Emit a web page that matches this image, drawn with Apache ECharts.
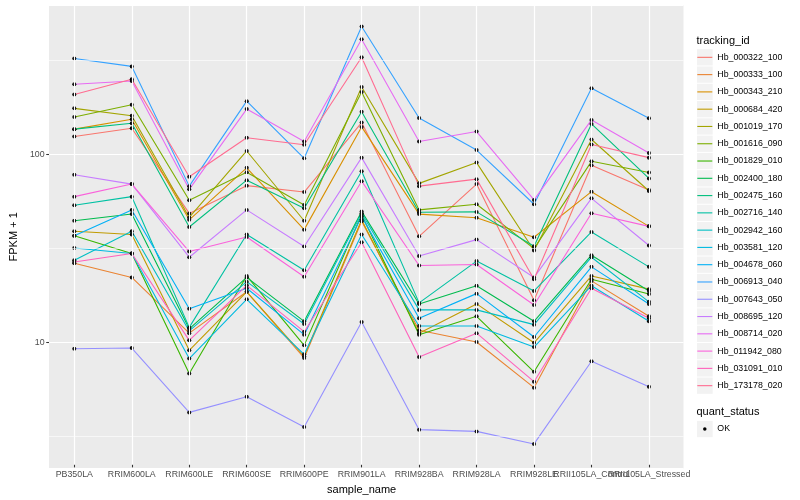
<!DOCTYPE html>
<html><head><meta charset="utf-8">
<script src="https://cdn.jsdelivr.net/npm/echarts@6/dist/echarts.min.js"></script>
<style>html,body{margin:0;padding:0;background:#fff}#c{width:800px;height:500px}</style>
</head><body><div id="c"></div>
<script>
const categories = ['PB350LA','RRIM600LA','RRIM600LE','RRIM600SE','RRIM600PE','RRIM901LA','RRIM928BA','RRIM928LA','RRIM928LE','RRII105LA_Control','RRII105LA_Stressed'];
const seriesNames = ['Hb_000322_100','Hb_000333_100','Hb_000343_210','Hb_000684_420','Hb_001019_170','Hb_001616_090','Hb_001829_010','Hb_002400_180','Hb_002475_160','Hb_002716_140','Hb_002942_160','Hb_003581_120','Hb_004678_060','Hb_006913_040','Hb_007643_050','Hb_008695_120','Hb_008714_020','Hb_011942_080','Hb_031091_010','Hb_173178_020'];
const seriesColors = ['#F8766D','#EA8331','#D89000','#C09B00','#A3A500','#7CAE00','#39B600','#00BB4E','#00BF7D','#00C1A3','#00BFC4','#00BAE0','#00B0F6','#35A2FF','#9590FF','#C77CFF','#E76BF3','#FA62DB','#FF62BC','#FF6C91'];

const Hb_000322_100 = [122.6, 135.8, 47.4, 66.8, 61.7, 145.5, 35.7, 68.1, 16.2, 85.9, 63.3];
const Hb_000333_100 = [25.6, 21.5, 10.8, 18.0, 7.95, 43.0, 11.2, 9.68, 5.51, 20.6, 13.3];
const Hb_000343_210 = [134.2, 151.6, 43.8, 83.2, 38.8, 138.0, 47.0, 44.9, 35.3, 62.0, 40.4];
const Hb_000684_420 = [38.0, 36.5, 8.74, 18.0, 8.12, 43.8, 10.8, 15.5, 9.59, 21.9, 18.6];
const Hb_001019_170 = [173.5, 158.5, 45.1, 102.5, 43.3, 226.1, 68.7, 88.8, 30.0, 118.1, 62.5];
const Hb_001616_090 = [156.0, 181.4, 55.8, 78.9, 52.6, 212.6, 49.5, 53.1, 30.7, 90.2, 78.6];
const Hb_001829_010 = [36.0, 28.9, 6.56, 21.9, 9.29, 46.6, 10.6, 13.3, 6.70, 21.0, 17.5];
const Hb_002400_180 = [43.3, 47.1, 11.4, 21.5, 12.5, 48.6, 15.5, 19.4, 12.5, 28.3, 18.2];
const Hb_002475_160 = [134.2, 144.4, 40.1, 71.5, 50.5, 166.4, 48.1, 48.3, 31.6, 143.2, 73.0];
const Hb_002716_140 = [52.4, 58.3, 11.6, 36.5, 23.5, 79.8, 15.7, 26.3, 18.2, 37.7, 24.5];
const Hb_002942_160 = [26.6, 38.0, 11.1, 20.4, 12.1, 47.5, 14.4, 14.4, 12.0, 27.6, 15.9];
const Hb_003581_120 = [30.9, 28.9, 7.89, 16.4, 8.32, 36.5, 11.8, 11.8, 9.10, 19.4, 12.5];
const Hb_004678_060 = [36.0, 49.5, 14.6, 18.8, 10.6, 45.7, 13.0, 17.6, 10.3, 24.5, 15.5];
const Hb_006913_040 = [321.3, 291.3, 66.4, 189.7, 93.6, 477.2, 154.1, 103.7, 53.1, 222.5, 153.5];
const Hb_007643_050 = [8.91, 8.99, 4.06, 4.93, 3.39, 12.4, 3.28, 3.21, 2.75, 7.64, 5.58];
const Hb_008695_120 = [76.4, 68.1, 27.6, 49.5, 31.5, 94.4, 28.0, 34.3, 21.5, 57.1, 31.9];
const Hb_008714_020 = [233.7, 243.3, 63.8, 172.0, 115.3, 407.0, 115.3, 130.3, 56.0, 150.4, 100.0];
const Hb_011942_080 = [58.3, 68.1, 29.6, 35.4, 21.7, 70.6, 24.9, 25.2, 15.3, 47.5, 40.4];
const Hb_031091_010 = [26.0, 28.9, 9.88, 19.5, 11.0, 33.2, 8.05, 10.8, 5.93, 18.8, 13.0];
const Hb_173178_020 = [206.0, 248.4, 74.5, 120.6, 110.7, 326.5, 66.4, 72.4, 21.0, 111.1, 94.4];

const seriesValues = [Hb_000322_100, Hb_000333_100, Hb_000343_210, Hb_000684_420, Hb_001019_170, Hb_001616_090, Hb_001829_010, Hb_002400_180, Hb_002475_160, Hb_002716_140, Hb_002942_160, Hb_003581_120, Hb_004678_060, Hb_006913_040, Hb_007643_050, Hb_008695_120, Hb_008714_020, Hb_011942_080, Hb_031091_010, Hb_173178_020];

const yMinorGridValues = [3.1623, 31.623, 316.23];
const yMin = 2.13, yMax = 622;
const statusName = 'OK';

const FONT = 'Liberation Sans, Arial, Helvetica, sans-serif';
const LEG_LEFT = 697.3, LEG_TOP = 48.7, ROW = 17.28, OK_TOP = 420.4;

const chart = echarts.init(document.getElementById('c'), null, {renderer: 'canvas'});

const series = [];
series.push({
  type: 'line', xAxisIndex: 0, yAxisIndex: 0, data: [], silent: true, z: 1,
  markLine: { silent: true, symbol: ['none', 'none'], label: {show: false}, animation: false,
    emphasis: {disabled: true},
    lineStyle: {color: '#ffffff', width: 0.6, type: 'solid'},
    data: yMinorGridValues.map(v => ({yAxis: v})) }
});
series.push({
  type: 'line', xAxisIndex: 1, yAxisIndex: 1, data: [], silent: true, z: 1,
  markLine: { silent: true, symbol: ['none', 'none'], label: {show: false}, animation: false,
    emphasis: {disabled: true},
    lineStyle: {color: '#ffffff', width: 1.2, type: 'solid'},
    data: categories.map(c => ({xAxis: c})) }
});
seriesNames.forEach((n, i) => {
  series.push({
    type: 'line', name: n, data: seriesValues[i], xAxisIndex: 1, yAxisIndex: 1,
    showSymbol: false, symbol: 'none', silent: true, z: 2,
    color: seriesColors[i],
    itemStyle: {color: seriesColors[i]},
    lineStyle: {color: seriesColors[i], width: 1.1}
  });
});
seriesNames.forEach((n, i) => {
  series.push({
    type: 'scatter', name: statusName, data: seriesValues[i], xAxisIndex: 1, yAxisIndex: 1,
    symbol: 'circle', symbolSize: 4, silent: true, z: 3,
    itemStyle: {color: '#000000', borderWidth: 0, opacity: 1}
  });
});

const keyBoxes = [];
for (let i = 0; i < seriesNames.length; i++) {
  keyBoxes.push({type: 'rect', left: 697, top: LEG_TOP + ROW * i + 0.5, silent: true, z: -1,
    shape: {width: 15.7, height: ROW - 1}, style: {fill: '#F2F2F2'}});
}
keyBoxes.push({type: 'rect', left: 697, top: OK_TOP + 0.5, silent: true, z: -1,
  shape: {width: 15.7, height: ROW - 1}, style: {fill: '#F2F2F2'}});

const okIcon = 'path://M0,0h0.01v0.01h-0.01z M14.99,14.99h0.01v0.01h-0.01z M5.75,7.5a1.75,1.75 0 1,0 3.5,0a1.75,1.75 0 1,0 -3.5,0z';

chart.setOption({
  animation: false,
  backgroundColor: '#ffffff',
  textStyle: {fontFamily: FONT},
  title: [
    {text: 'tracking_id', left: 696.5, top: 35.2, padding: 0, textStyle: {fontSize: 11, fontWeight: 'normal', color: '#000', fontFamily: FONT}},
    {text: 'quant_status', left: 696.5, top: 406.5, padding: 0, textStyle: {fontSize: 11, fontWeight: 'normal', color: '#000', fontFamily: FONT}}
  ],
  legend: [
    {orient: 'vertical', left: LEG_LEFT, top: LEG_TOP, padding: 0, itemGap: 0,
     itemWidth: 15, itemHeight: 1.1, selectedMode: false,
     textStyle: {fontSize: 8.8, color: '#000', lineHeight: ROW, fontFamily: FONT},
     data: seriesNames.map(n => ({name: n, icon: 'rect'}))},
    {orient: 'vertical', left: LEG_LEFT, top: OK_TOP, padding: 0, itemGap: 0,
     itemWidth: 15, itemHeight: 15, selectedMode: false,
     textStyle: {fontSize: 8.8, color: '#000', lineHeight: ROW, fontFamily: FONT},
     data: [{name: statusName, icon: okIcon, itemStyle: {color: '#000', borderWidth: 0}}]}
  ],
  grid: [
    {left: 39.8, right: 116.5, top: 5, bottom: 31.3, show: true, backgroundColor: '#EBEBEB', borderWidth: 0},
    {left: 45.57, right: 122.3, top: 5, bottom: 31.3, show: false, borderWidth: 0}
  ],
  xAxis: [
    {type: 'value', gridIndex: 0, min: 0, max: 1, show: false},
    {type: 'category', gridIndex: 1, data: categories, boundaryGap: true,
     axisLine: {show: false},
     axisTick: {show: true, alignWithLabel: true, length: 2.75, lineStyle: {color: '#333333', width: 1.07}},
     axisLabel: {interval: 0, color: '#4D4D4D', fontSize: 8.8, margin: 5.5, fontFamily: FONT},
     splitLine: {show: false},
     name: 'sample_name', nameLocation: 'middle', nameGap: 14.8,
     nameTextStyle: {color: '#000', fontSize: 11, fontFamily: FONT}}
  ],
  yAxis: [
    {type: 'log', logBase: 10, gridIndex: 0, min: yMin, max: yMax,
     axisLine: {show: false},
     axisTick: {show: true, length: 2.75, lineStyle: {color: '#333333', width: 1.07}},
     axisLabel: {color: '#4D4D4D', fontSize: 8.8, margin: 4.4, fontFamily: FONT, showMinLabel: false, showMaxLabel: false},
     splitLine: {show: true, lineStyle: {color: '#ffffff', width: 1.2}},
     minorSplitLine: {show: false},
     name: 'FPKM + 1', nameLocation: 'middle', nameGap: 23,
     nameTextStyle: {color: '#000', fontSize: 11, fontFamily: FONT}},
    {type: 'log', logBase: 10, gridIndex: 1, min: yMin, max: yMax, show: false}
  ],
  graphic: keyBoxes,
  series: series
});
</script></body></html>
